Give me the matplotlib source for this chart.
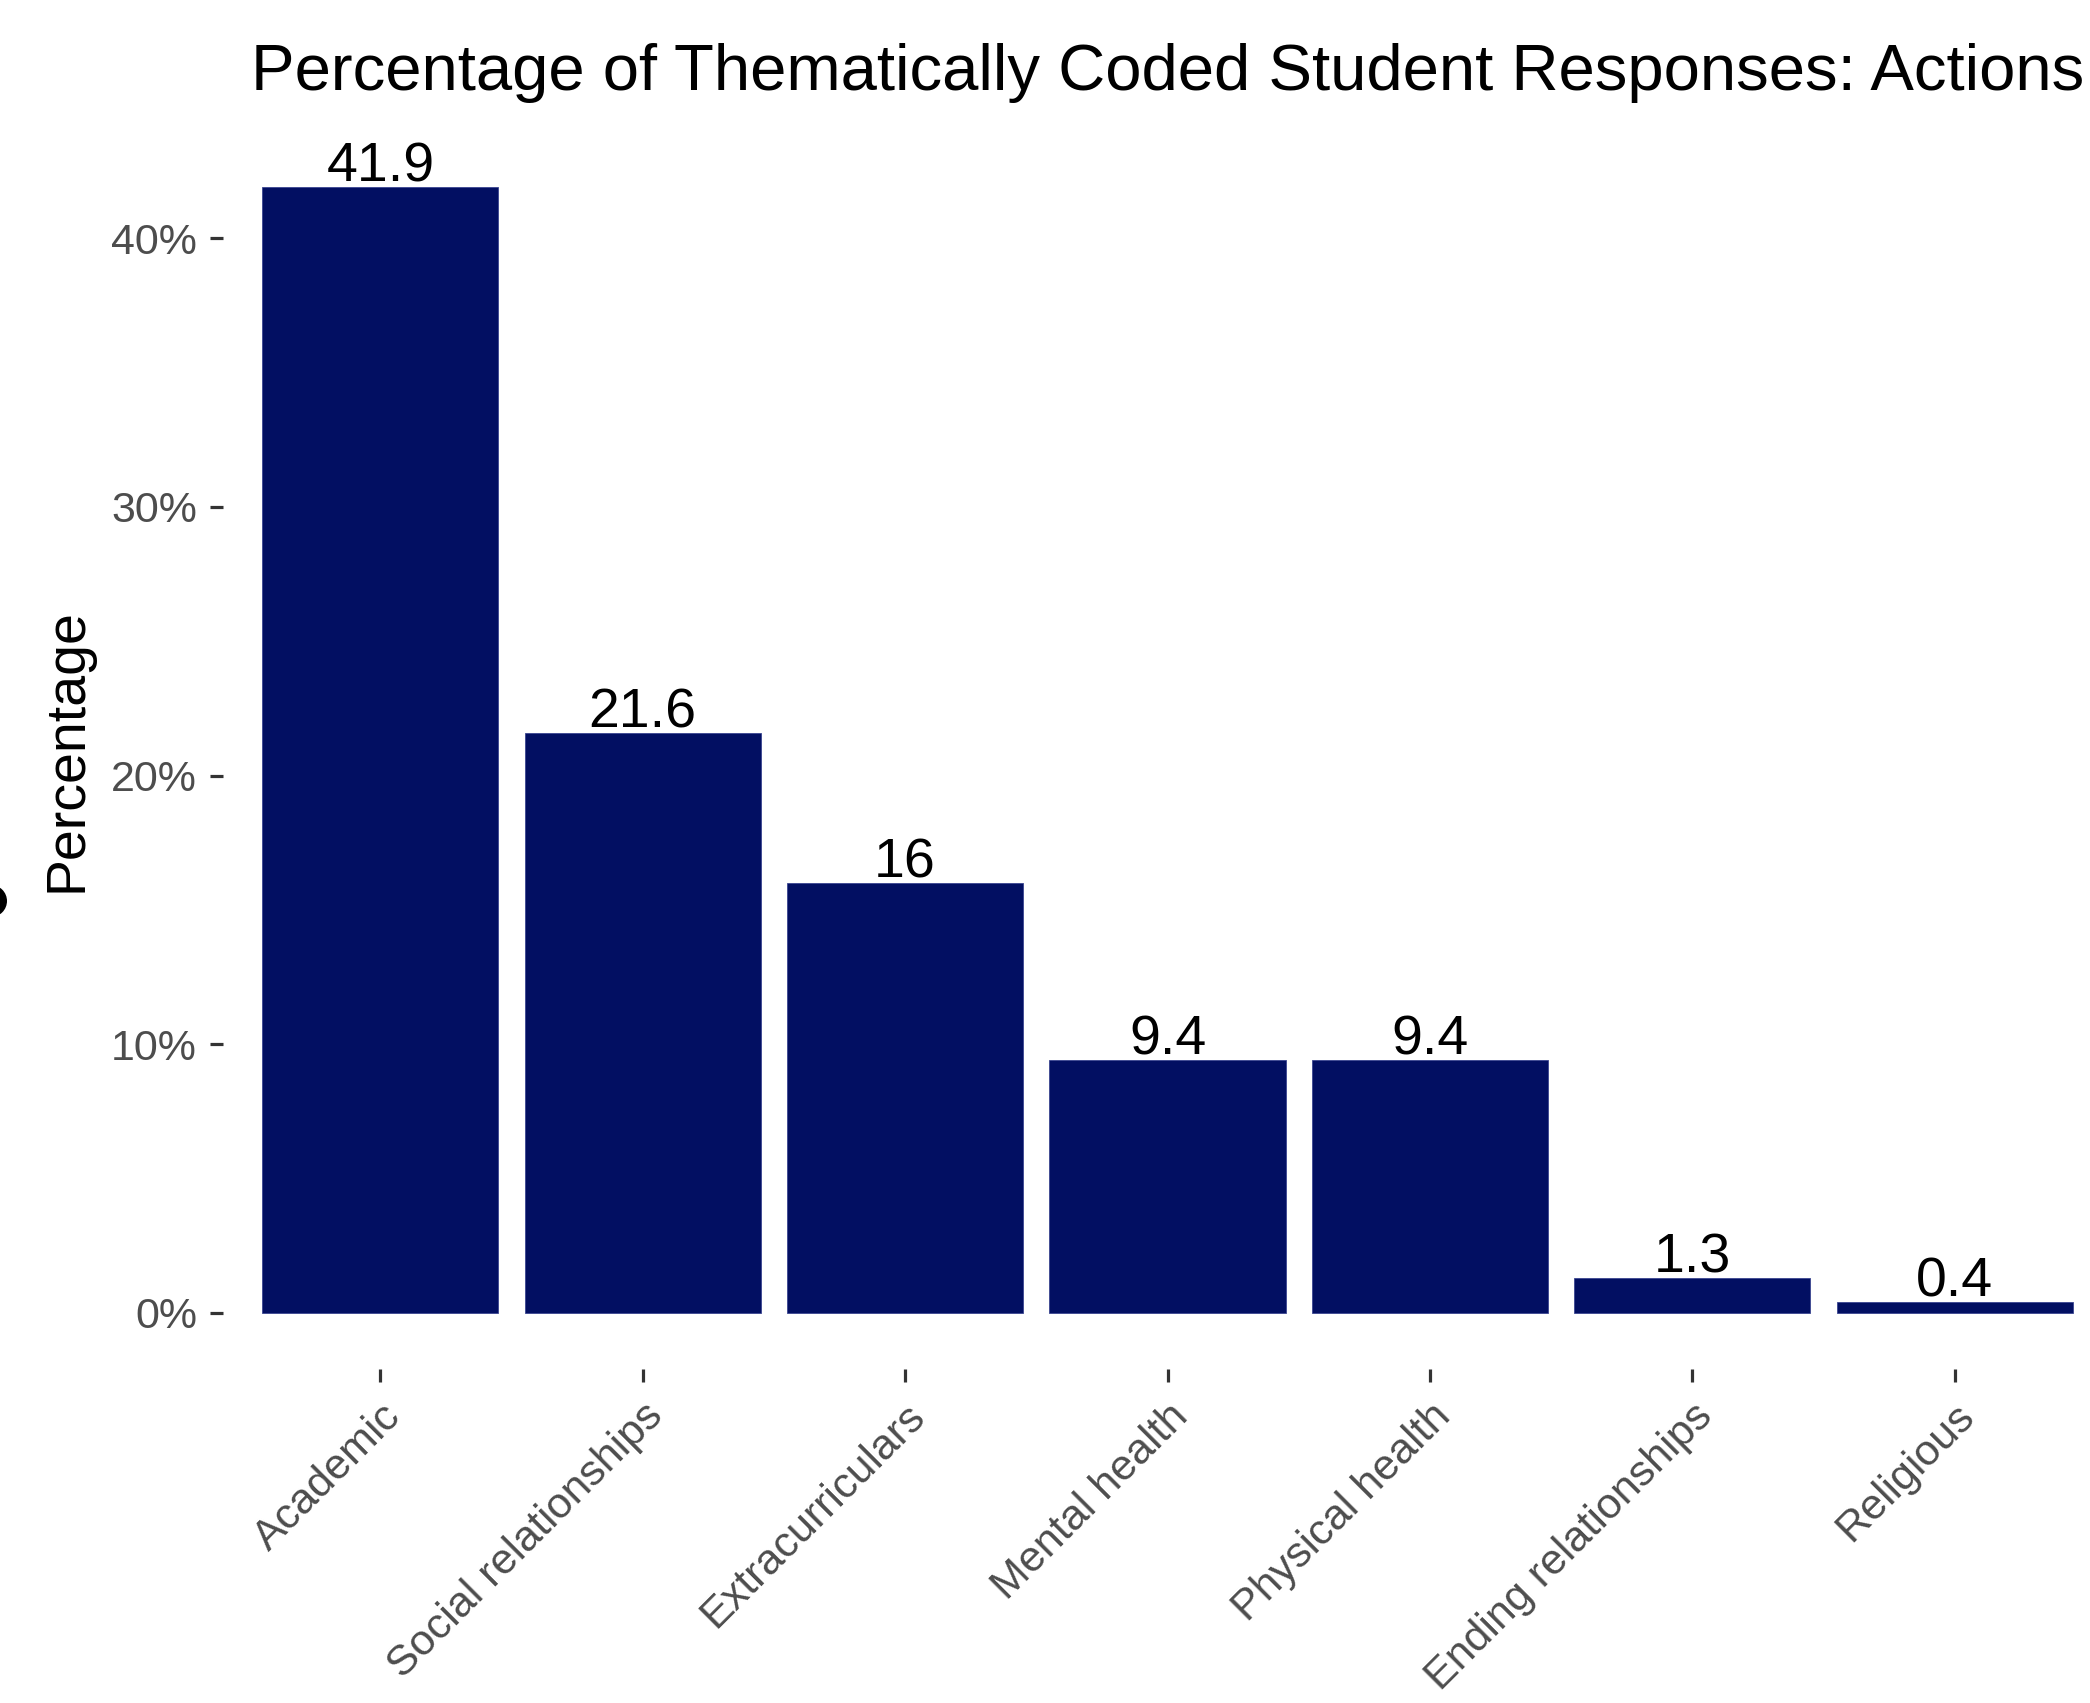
import matplotlib
matplotlib.use("Agg")
import matplotlib.pyplot as plt
from matplotlib.patches import Circle
from matplotlib.ticker import FuncFormatter

plt.rcParams['font.family'] = ['Liberation Sans', 'DejaVu Sans']

categories = ["Academic", "Social relationships", "Extracurriculars",
              "Mental health", "Physical health", "Ending relationships",
              "Religious"]
values = [41.9, 21.6, 16, 9.4, 9.4, 1.3, 0.4]
labels = ["41.9", "21.6", "16", "9.4", "9.4", "1.3", "0.4"]
yticks = [0, 10, 20, 30, 40]

W, H = 2090, 1703
fig = plt.figure(figsize=(W / 100, H / 100), dpi=100)
left, right, top, bottom = 223, 2112, 131, 1369
ax = fig.add_axes([left / W, 1 - bottom / H, (right - left) / W, (bottom - top) / H])

x = list(range(len(categories)))
ax.bar(x, values, width=0.9, color='#020F62', edgecolor='#3A4590', linewidth=0.6)

for xi, v, lab in zip(x, values, labels):
    ax.annotate(lab, (xi, v), xytext=(0, 3.8), textcoords='offset points',
                ha='center', va='baseline', fontsize=40, color='black')

vmax = max(values)
ax.set_ylim(-0.05 * vmax, vmax * 1.05)
ax.set_xlim(-0.6, len(categories) - 0.4)
ax.set_yticks(yticks)
ax.yaxis.set_major_formatter(FuncFormatter(lambda v, p: f"{int(v)}%"))
ax.set_xticks(x)
ax.set_xticklabels(categories, rotation=45, ha='right', va='top',
                   rotation_mode='anchor')

for s in ax.spines.values():
    s.set_visible(False)
ax.tick_params(axis='y', length=9.4, width=2.3, color='#333333', pad=9.4,
               labelsize=31, labelcolor='#4D4D4D')
ax.tick_params(axis='x', length=9.4, width=2.3, color='#333333', pad=10,
               labelsize=31, labelcolor='#4D4D4D')

ax.set_ylabel("Percentage", fontsize=40, color='black', labelpad=12)
ax.yaxis.set_label_coords(-(left - 93) / (right - left), 0.5)

fig.text(((left + right) / 2) / W, 1 - 90 / H,
         "Percentage of Thematically Coded Student Responses: Actions",
         ha='center', va='baseline', fontsize=47, color='black')

fig.patches.append(Circle((-9, H - 901), 16, transform=None,
                          facecolor='black', edgecolor='none'))

fig.savefig("out.png", dpi=100)
